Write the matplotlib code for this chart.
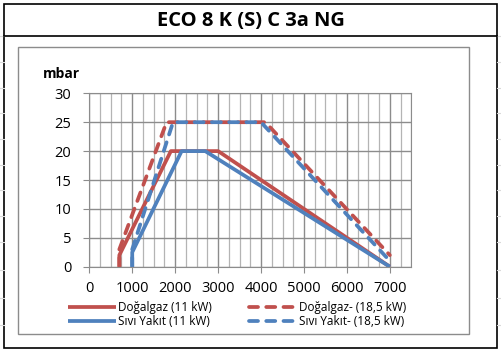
import matplotlib
matplotlib.use("Agg")
import matplotlib.pyplot as plt
from matplotlib.patches import Rectangle
from matplotlib.lines import Line2D

plt.rcParams['font.family'] = ['Open Sans', 'DejaVu Sans']

title = "ECO 8 K (S) C 3a NG"
ylabel = "mbar"

gas11_x = [700, 700, 1900, 3000, 7000]
gas11_y = [0, 2, 20, 20, 0]
gas18_x = [700, 700, 1800, 4100, 7000]
gas18_y = [0, 3, 25, 25, 2]
liq11_x = [1000, 1000, 2150, 2700, 7000]
liq11_y = [0, 2.5, 20, 20, 0]
liq18_x = [1000, 1000, 1950, 4000, 7000]
liq18_y = [0, 3, 25, 25, 1]

labels = ["Doğalgaz (11 kW)", "Doğalgaz- (18,5 kW)", "Sıvı Yakıt (11 kW)", "Sıvı Yakıt- (18,5 kW)"]
red = "#C0504D"
blue = "#4F81BD"

W, H = 502, 352
fig = plt.figure(figsize=(W / 100, H / 100), dpi=100)

def fx(px):
    return px / W

def fy(py):
    return 1 - py / H

# spreadsheet grid lines outside chart
for ry in [36, 62, 88, 113, 139, 165, 190, 216, 242, 270, 298, 325]:
    fig.add_artist(Line2D([0, fx(4)], [fy(ry), fy(ry)], color="#d9d9d9", lw=0.8))
    fig.add_artist(Line2D([fx(497), 1], [fy(ry), fy(ry)], color="#d9d9d9", lw=0.8))

# outer chart border
fig.add_artist(Rectangle((fx(4), fy(348)), fx(493), (344) / H, fill=False,
                         edgecolor="black", lw=1.2))
fig.add_artist(Line2D([fx(4), fx(497)], [fy(36), fy(36)], color="black", lw=1.2))
# inner plot area border
fig.add_artist(Rectangle((fx(18), fy(334)), fx(451), (287) / H, fill=False,
                         edgecolor="#8c8c8c", lw=1.0))

fig.text(fx(251), fy(21), title, ha="center", va="center", fontsize=14.5,
         fontweight="bold")
fig.text(fx(61), fy(74), ylabel, ha="center", va="center", fontsize=10,
         fontweight="bold")

ax = fig.add_axes([fx(89.3), fy(266.7), fx(411.3 - 89.3), (266.7 - 93.3) / H])
ax.set_xlim(0, 7500)
ax.set_ylim(0, 30)
ax.set_xticks(range(0, 8000, 1000))
ax.set_xticks(range(0, 7750, 250), minor=True)
ax.set_yticks(range(0, 35, 5))
ax.grid(which="major", color="#8c8c8c", lw=1.0)
ax.grid(which="minor", axis="x", color="#b4b4b4", lw=0.9)
ax.tick_params(axis="x", which="minor", length=0)
ax.tick_params(axis="both", which="major", length=4, color="#8c8c8c",
               labelsize=10.5)
ax.tick_params(axis="x", pad=6.5)
ax.tick_params(axis="y", pad=9)
for s in ax.spines.values():
    s.set_color("#8c8c8c")
ax.set_axisbelow(True)

lw = 2.7
l1, = ax.plot(gas11_x, gas11_y, color=red, lw=lw, solid_capstyle="butt",
              solid_joinstyle="round", label=labels[0])
l3, = ax.plot(liq11_x, liq11_y, color=blue, lw=lw, solid_capstyle="butt",
              solid_joinstyle="round", label=labels[2])
l2, = ax.plot(gas18_x, gas18_y, color=red, lw=lw, ls=(0, (2.4, 2.2)),
              dash_capstyle="round", label=labels[1])
l4, = ax.plot(liq18_x, liq18_y, color=blue, lw=lw, ls=(0, (2.4, 2.2)),
              dash_capstyle="round", label=labels[3])

leg = fig.legend([l1, l3, l2, l4], [labels[0], labels[2], labels[1], labels[3]],
                 ncol=2, loc="center left", bbox_to_anchor=(fx(68), fy(314.5)),
                 frameon=False, fontsize=8.5, handlelength=4.1,
                 handletextpad=0.1, columnspacing=3.2, labelspacing=0.05,
                 borderpad=0, borderaxespad=0)

fig.savefig("out.png", dpi=100)
